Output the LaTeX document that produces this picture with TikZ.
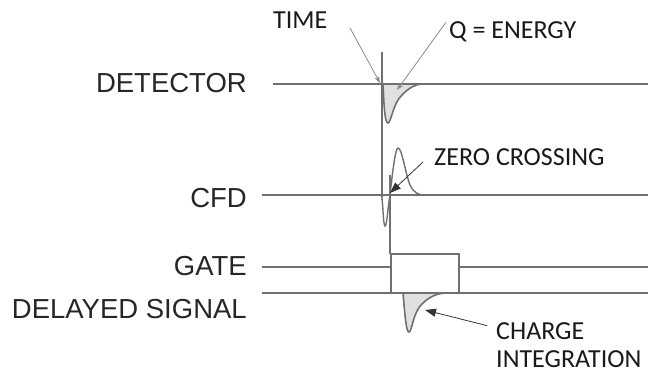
\documentclass[tikz,border=0pt]{standalone}
\usepackage{fontspec}
\setmainfont{Carlito}
\newfontfamily\arialfont{Liberation Sans}
\usetikzlibrary{arrows.meta}
\definecolor{sig}{HTML}{707070}
\definecolor{lite}{HTML}{8A8A8A}
\definecolor{fillg}{HTML}{E0E0E0}
\tikzset{
  siglabel/.style={anchor=base east, inner sep=0pt, font=\arialfont\fontsize{27.5}{30}\selectfont, text=black!85},
  notelabel/.style={anchor=base west, inner sep=0pt, font=\fontsize{26}{33}\selectfont, text=black!90, align=left},
  baseline/.style={draw=sig, line width=1.4pt},
  pulse/.style={draw=sig, line width=1.6pt, fill=fillg},
  grayarrow/.style={draw=lite, line width=0.8pt, -{Stealth[length=7pt,width=5pt]}},
  blackarrow/.style={draw=black!80, line width=0.8pt, -{Triangle[length=11pt,width=8pt]}}
}
\begin{document}
\begin{tikzpicture}[x=1pt,y=-1pt]
\useasboundingbox (0,0) rectangle (648,372);
% labels
\node[siglabel] (det) at (247,92) {DETECTOR};
\node[siglabel] (cfd) at (247,207) {CFD};
\node[siglabel] (gate) at (247,275) {GATE};
\node[siglabel] (del) at (247,318) {DELAYED SIGNAL};
\node[notelabel] (time) at (273,28) {TIME};
\node[notelabel] (qe) at (449,38) {Q = ENERGY};
\node[notelabel] (zc) at (434,165) {ZERO CROSSING};
\node[notelabel] (ci1) at (496,339) {CHARGE};
\node[notelabel, text depth=0pt] (ci2) at (496,367) {INTEGRATION};
% detector
\path[pulse] (383,84) .. controls (384,108) and (385,123) .. (388,123)
  .. controls (391,123) and (393,103) .. (402,95) .. controls (409,88) and (415,84) .. (423,84) -- cycle;
\draw[baseline] (273,84) -- (648,84);
\coordinate (t1) at (382,52);
\coordinate (t2) at (382,197);
\draw[sig, line width=1.4pt] (t1) -- (t2);
% cfd
\draw[baseline] (262,195) -- (648,195);
\draw[sig, line width=1.4pt] (381,195) .. controls (383,196) and (383,226) .. (385,226)
  .. controls (387,226) and (388,205) .. (390,195)
  .. controls (392,178) and (395,148) .. (398,148)
  .. controls (402,148) and (405,172) .. (410,185)
  .. controls (414,193) and (418,195) .. (425,195);
\coordinate (z1) at (390,175);
\coordinate (z2) at (390,254);
\draw[sig, line width=1.4pt] (z1) -- (z2);
% gate
\draw[baseline] (262,267) -- (391,267);
\draw[baseline] (459,267) -- (648,267);
\draw[sig, line width=1.4pt] (391,293) -- (391,254) -- (459,254) -- (459,293);
% delayed
\path[pulse] (403,293) .. controls (405,315) and (406,332) .. (409,332)
  .. controls (412,332) and (413,312) .. (422,304) .. controls (430,296) and (438,293) .. (447,293) -- cycle;
\draw[baseline] (262,293) -- (648,293);
% arrows
\coordinate (ta) at (380,83);
\coordinate (qa) at (397,90);
\coordinate (za) at (390,193);
\coordinate (ca) at (425,310);
\draw[grayarrow] (350,28) -- (ta);
\draw[grayarrow] (qe.west) ++(-3,-9) -- (qa);
\draw[blackarrow] (423,162) -- (za);
\draw[blackarrow] (ci1.west) ++(-9,-5) -- (ca);
\end{tikzpicture}
\end{document}
